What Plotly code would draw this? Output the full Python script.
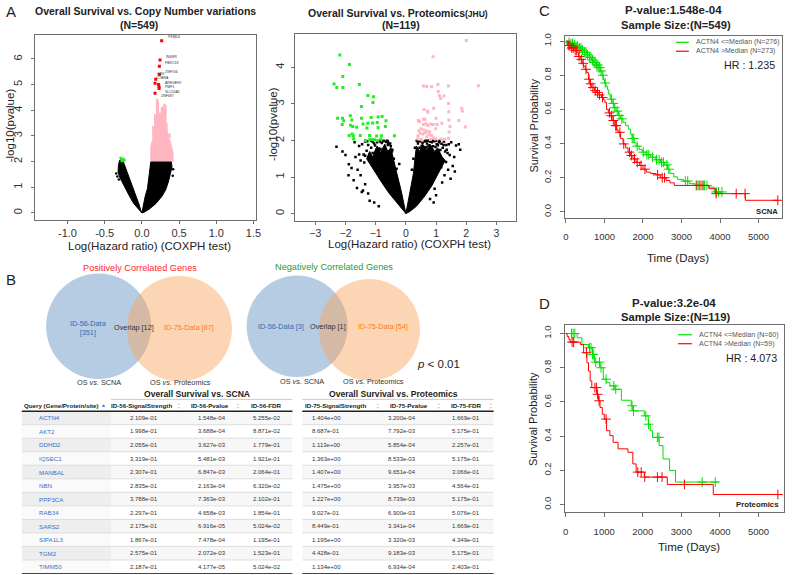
import plotly.graph_objects as go

W, H = 792, 575
FONT = "Liberation Sans, Arial, sans-serif"
GREEN = "#00e000"
RED = "#ff0000"
PINK = "#ffb6c1"
BOXC = "#6e6e6e"
TXT = "#222222"

# ---------------- Panel A : OS vs CNV volcano ----------------
cnv_left_x = [0, -0.06, -0.11, -0.16, -0.21, -0.26, -0.30, -0.32, -0.315, -0.30, -0.275, -0.25,
              -0.225, -0.19, -0.15, -0.11, -0.075, -0.04, -0.015, 0]
cnv_left_y = [0, 0.2, 0.37, 0.62, 0.89, 1.15, 1.4, 1.6, 1.85, 2.05, 2.1, 2.0,
              1.8, 1.54, 1.25, 0.95, 0.65, 0.35, 0.1, 0]
cnv_right_x = [0, 0.02, 0.045, 0.075, 0.09, 0.105, 0.12, 0.25, 0.395, 0.405, 0.385, 0.36,
               0.32, 0.27, 0.19, 0.1, 0.03, 0]
cnv_right_y = [0, 0.3, 0.65, 0.95, 1.25, 1.6, 2.0, 2.0, 2.0, 1.8, 1.55, 1.25,
               0.9, 0.65, 0.37, 0.15, 0.03, 0]
cnv_pink_x = [0.12, 0.12, 0.14, 0.16, 0.18, 0.2, 0.22, 0.24, 0.26, 0.28, 0.3, 0.32, 0.34, 0.36,
              0.38, 0.4, 0.42, 0.42]
cnv_pink_y = [2.0, 2.6, 2.8, 2.95, 3.2, 3.1, 3.3, 3.15, 3.3, 3.2, 3.35, 3.1, 3.2, 2.9,
              2.8, 2.6, 2.3, 2.0]
cnv_stem_x = [0.155, 0.18, 0.205, 0.215, 0.24, 0.27, 0.28, 0.305, 0.315, 0.33, 0.37, 0.395]
cnv_stem_top = [3.4, 3.85, 4.45, 4.35, 3.9, 4.1, 4.15, 4.25, 4.2, 3.5, 3.1, 2.9]
cnv_black_x = [-0.345, -0.33, -0.31, 0.42, 0.415]
cnv_black_y = [1.54, 1.42, 1.3, 1.7, 1.45]
cnv_green_x = [-0.285, -0.275, -0.265, -0.255, -0.245, -0.235, -0.27, -0.25]
cnv_green_y = [2.14, 2.1, 2.08, 2.05, 2.03, 2.06, 2.02, 2.1]
cnv_red_x = [0.266, 0.244, 0.235, 0.235, 0.186, 0.177, 0.225, 0.23, 0.232, 0.177]
cnv_red_y = [6.71, 5.96, 5.72, 5.39, 5.21, 5.05, 5.0, 4.92, 4.85, 4.66]
cnv_red_genes = ["PSMD4", "INSRR", "FBXO18", "ZNF706", "OR6", "COBRA", "ARHGEF2", "PMF1",
                 "SLC50A1", "ZNF687"]
# label placement (style): offsets in px from each point
cnv_lab_dx = [5, 5, 5, 5, 0, 0, 5, 5, 5, 5]
cnv_lab_dy = [-2, -1, -1, -1, -3.6, -3.2, 0, 2.5, 5.1, 4.7]

# ---------------- Panel A2 : OS vs Proteomics volcano ----------------
prot_left_x = [0, -0.15, -0.35, -0.55, -0.8, -1.0, -1.2, -1.3, -1.2, -1.1, -0.95, -0.85, -0.7,
               -0.6, -0.5, -0.42, -0.3, -0.15, -0.05, 0]
prot_left_y = [0, 0.15, 0.35, 0.55, 0.85, 1.1, 1.35, 1.5, 1.7, 1.55, 1.85, 1.65, 1.9,
               1.7, 1.8, 1.55, 1.1, 0.6, 0.2, 0]
prot_right_x = [0, 0.05, 0.15, 0.25, 0.3, 0.35, 0.45, 0.55, 0.7, 0.8, 0.95, 1.05, 1.2, 1.3,
                1.2, 1.05, 0.85, 0.6, 0.35, 0.12, 0]
prot_right_y = [0, 0.2, 0.6, 1.1, 1.5, 1.85, 1.7, 1.9, 1.75, 1.9, 1.7, 1.8, 1.55, 1.45,
                1.3, 1.05, 0.75, 0.45, 0.2, 0.05, 0]
prot_black_x = [-2.30, -2.10, -1.89, -1.73, -1.46, -1.67, -1.55, -1.60, -1.50, -1.35, -1.25,
                -1.20, -1.05, -0.90, -1.45, -1.55, -1.70, -1.35, -0.55, -0.45, -0.40, -0.31,
                -0.22, -0.60, -1.10, -0.85, -1.90, -2.00, -1.62, -1.80, -1.42,
                -1.30, -1.25, -1.15, -1.05, -1.00, -0.95, -0.90, -0.80, -0.75, -0.70, -0.65,
                -0.60, -0.52, -1.40, -1.35, -1.20, -1.10, -0.98, -0.88, -0.78, -0.68, -0.58,
                -0.50, -0.46, -1.28, -1.15, -1.02, -0.92, -0.84, -0.72, -0.62, -1.50, -1.38,
                1.66, 1.50, 1.33, 1.28, 1.17, 0.95, 1.75, 1.45, 1.35, 1.20, 1.00, 0.80, 1.40,
                1.55, 0.25, 0.30, 0.20, 0.40, 0.80, 1.10, 1.60, 1.80, 1.48, 1.62, 0.92,
                0.40, 0.48, 0.55, 0.62, 0.70, 0.78, 0.86, 0.94, 1.02, 1.10, 1.18, 1.26, 1.34,
                0.45, 0.52, 0.60, 0.68, 0.75, 0.83, 0.90, 0.98, 1.06, 1.14, 1.22, 1.30, 1.38,
                0.36, 0.65, 0.88, 1.12, 1.25, 1.42, 0.72, 1.00]
prot_black_y = [1.83, 1.70, 1.35, 0.91, 0.59, 1.55, 1.62, 1.20, 1.05, 0.80, 0.55,
                0.35, 0.30, 0.20, 1.90, 1.85, 1.95, 1.97, 1.90, 1.75, 1.50, 1.23,
                1.36, 1.98, 1.96, 1.97, 1.05, 1.60, 0.70, 1.25, 0.63,
                1.72, 1.88, 1.80, 1.92, 1.70, 1.95, 1.78, 1.93, 1.98, 1.82, 1.96,
                1.88, 1.92, 1.62, 1.58, 1.60, 1.66, 1.75, 1.72, 1.69, 1.76, 1.94,
                1.84, 1.70, 1.98, 1.99, 1.86, 1.99, 1.77, 1.99, 1.99, 1.45, 1.40,
                1.86, 1.95, 1.41, 1.05, 1.27, 0.68, 1.90, 1.60, 1.75, 0.85, 0.50, 0.40, 1.20,
                1.30, 1.50, 1.80, 1.20, 1.97, 1.97, 1.95, 1.55, 1.75, 0.95, 1.15, 0.30,
                1.92, 1.98, 1.93, 1.97, 1.92, 1.99, 1.95, 1.98, 1.90, 1.96, 1.91, 1.97, 1.88,
                1.80, 1.85, 1.80, 1.82, 1.86, 1.79, 1.84, 1.82, 1.87, 1.74, 1.80, 1.70, 1.66,
                1.99, 1.99, 1.99, 1.99, 1.88, 1.90, 1.99, 1.99]
prot_green_x = [-2.19, -1.87, -2.09, -2.38, -2.29, -2.09, -1.54, -1.26, -1.07, -1.09, -1.47,
                -1.84, -2.26, -2.10, -2.06, -1.79, -1.47, -1.15, -0.92, -0.79, -0.66, -1.26,
                -1.10, -0.95, -1.42, -2.11, -1.83, -1.76, -1.63, -1.29, -0.92, -0.68, -1.88,
                -1.78, -1.74, -1.51, -1.20, -0.97, -0.81, -0.38, -1.73, -1.33, -1.20, -1.11,
                -1.04, -0.93, -0.83]
prot_green_y = [4.34, 4.08, 3.75, 3.55, 3.45, 3.45, 3.53, 3.23, 3.20, 3.04, 2.93,
                2.68, 2.61, 2.61, 2.54, 2.56, 2.61, 2.63, 2.64, 2.66, 2.54, 2.47,
                2.48, 2.49, 2.45, 2.44, 2.42, 2.38, 2.36, 2.34, 2.35, 2.38, 2.14,
                2.18, 2.12, 2.14, 2.14, 2.12, 2.13, 2.13, 2.04, 2.00, 2.02, 2.03,
                2.02, 2.00, 2.04]
prot_pink_x = [2.00, 0.90, 2.40, 0.58, 0.69, 0.85, 1.06, 1.41, 1.07, 1.11, 1.26, 1.15, 1.41,
               1.85, 1.87, 0.60, 0.71, 0.73, 0.92, 1.42, 1.00, 0.58, 0.63, 0.41, 0.45, 1.19,
               1.42, 1.75, 0.82, 0.90, 1.03, 0.58, 0.67, 0.72, 1.97, 1.46, 0.99, 0.43, 0.50,
               0.59, 0.69, 0.79, 1.43, 0.47, 0.56, 0.64, 0.76, 0.85, 0.40, 0.69, 0.92, 1.17,
               1.41, 1.28, 0.40, 0.51, 0.81, 0.98]
prot_pink_y = [4.74, 4.29, 3.50, 3.49, 3.48, 3.47, 3.53, 3.49, 3.34, 3.23, 3.22, 3.15, 3.01,
               2.88, 2.81, 2.85, 2.81, 2.77, 2.88, 2.79, 2.61, 2.58, 2.58, 2.55, 2.52, 2.47,
               2.56, 2.55, 2.45, 2.44, 2.44, 2.44, 2.46, 2.41, 2.37, 2.38, 2.32, 2.27, 2.32,
               2.29, 2.26, 2.24, 2.23, 2.20, 2.18, 2.21, 2.17, 2.14, 2.12, 2.10, 2.07, 2.04,
               2.06, 2.03, 2.04, 2.03, 2.03, 2.04]

# ---------------- Panel C : KM SCNA ----------------
km_c_lo_t = [0, 60, 120, 180, 250, 320, 400, 470, 540, 600, 660, 720, 780, 840, 900, 940, 970,
             1000, 1040, 1080, 1110, 1150, 1200, 1250, 1300, 1360, 1420, 1480, 1550, 1620, 1680,
             1720, 1770, 1820, 1900, 1980, 2080, 2200, 2330, 2450, 2560, 2640, 2700, 2800, 2900,
             3050, 3200, 3350, 3700, 3850, 4060]
km_c_lo_s = [1.0, 0.993, 0.985, 0.978, 0.97, 0.96, 0.948, 0.935, 0.92, 0.905, 0.89, 0.875,
             0.86, 0.845, 0.825, 0.80, 0.775, 0.755, 0.735, 0.715, 0.69, 0.66, 0.635, 0.61,
             0.59, 0.565, 0.545, 0.525, 0.505, 0.485, 0.455, 0.43, 0.405, 0.385, 0.365, 0.35,
             0.335, 0.32, 0.305, 0.29, 0.275, 0.25, 0.225, 0.205, 0.19, 0.18, 0.165, 0.155,
             0.145, 0.117, 0.117]
km_c_hi_t = [0, 50, 110, 200, 283, 330, 369, 420, 455, 500, 540, 583, 620, 669, 740, 798, 860,
             926, 980, 1012, 1055, 1100, 1140, 1200, 1269, 1320, 1355, 1420, 1484, 1550, 1612,
             1680, 1741, 1820, 1912, 2000, 2084, 2200, 2341, 2450, 2599, 2700, 2813, 3600, 3713,
             3885, 4657, 5514]
km_c_hi_s = [1.0, 0.975, 0.96, 0.945, 0.932, 0.91, 0.893, 0.87, 0.854, 0.835, 0.816, 0.777,
             0.75, 0.728, 0.71, 0.699, 0.685, 0.67, 0.655, 0.64, 0.60, 0.58, 0.563, 0.535,
             0.505, 0.48, 0.466, 0.43, 0.398, 0.375, 0.35, 0.33, 0.31, 0.29, 0.272, 0.25,
             0.233, 0.225, 0.217, 0.2, 0.184, 0.17, 0.155, 0.155, 0.136, 0.107, 0.068, 0.068]
km_c_lo_cens = [80, 130, 170, 220, 260, 300, 350, 390, 430, 480, 520, 560, 610, 650, 690, 730,
                760, 800, 830, 860, 880, 910, 960, 1020, 1180, 1230, 1270, 1330, 1380, 1450,
                1720, 1760, 1850, 2010, 2100, 2150, 2250, 2350, 2420, 2480, 2530, 2620, 2670,
                3100, 3160, 3380, 3450, 3530, 3600, 3660, 3900, 3960, 4050]
km_c_hi_cens = [60, 100, 150, 190, 240, 280, 340, 400, 450, 520, 600, 640, 700, 760, 820, 870,
                950, 1130, 1180, 1230, 1290, 1310, 1400, 1500, 1650, 1700, 1780, 1850, 1950,
                2050, 2380, 2500, 2560, 3400, 3480, 3560, 3900, 4420, 4650, 5500]

# ---------------- Panel D : KM Proteomics ----------------
km_d_lo_t = [0, 300, 425, 595, 697, 748, 893, 978, 1063, 1148, 1275, 1446, 1700, 1743, 2041,
             2143, 2194, 2253, 2423, 2525, 2695, 2849, 3954]
km_d_lo_s = [1.0, 0.975, 0.936, 0.917, 0.878, 0.833, 0.80, 0.733, 0.713, 0.694, 0.674, 0.61,
             0.578, 0.548, 0.519, 0.47, 0.432, 0.393, 0.345, 0.267, 0.20, 0.132, 0.132]
km_d_hi_t = [0, 40, 85, 120, 383, 468, 553, 595, 638, 680, 808, 850, 893, 952, 1003, 1063,
             1148, 1233, 1360, 1616, 1743, 1828, 2041, 2636, 3826, 5501]
km_d_hi_s = [1.0, 0.983, 0.966, 0.95, 0.936, 0.888, 0.829, 0.781, 0.723, 0.684, 0.645, 0.607,
             0.568, 0.529, 0.50, 0.432, 0.403, 0.364, 0.326, 0.306, 0.238, 0.19, 0.161, 0.118,
             0.059, 0.059]
km_d_lo_cens = [153, 196, 240, 620, 660, 700, 720, 780, 880, 920, 1050, 1250, 1300, 1720, 1760,
                2080, 2150, 2380, 2420, 3540, 3880]
km_d_hi_cens = [170, 210, 540, 760, 800, 830, 870, 1050, 1870, 1960, 2050, 2380, 2500, 3080, 5500]

# ---------------- Venn counts ----------------
venn_pos = ["ID-56-Data<br>[351]", "Overlap [12]", "ID-75-Data [87]"]
venn_neg = ["ID-56-Data [3]", "Overlap [1]", "ID-75-Data [54]"]

# ---------------- Table ----------------
genes = ["ACTN4", "AKT2", "DDHD2", "IQSEC1", "MANBAL", "NBN", "PPP3CA", "RAB34", "SARS2",
         "SIPA1L3", "TGM2", "TIMM50"]
s56 = ["2.109e-01", "1.998e-01", "2.055e-01", "3.319e-01", "2.307e-01", "2.835e-01", "3.788e-01",
       "2.297e-01", "2.175e-01", "1.867e-01", "2.575e-01", "2.187e-01"]
p56 = ["1.548e-04", "3.688e-04", "3.627e-03", "5.481e-03", "6.847e-03", "2.163e-04", "7.363e-03",
       "4.658e-03", "6.916e-05", "7.478e-04", "2.072e-03", "4.177e-05"]
f56 = ["5.255e-02", "8.871e-02", "1.779e-01", "1.921e-01", "2.064e-01", "6.320e-02", "2.102e-01",
       "1.854e-01", "5.024e-02", "1.195e-01", "1.523e-01", "5.024e-02"]
s75 = ["1.404e+00", "8.687e-01", "1.113e+00", "1.363e+00", "1.407e+00", "1.475e+00", "1.227e+00",
       "9.027e-01", "8.449e-01", "1.195e+00", "4.428e-01", "1.134e+00"]
p75 = ["3.200e-04", "7.792e-03", "5.854e-04", "8.533e-03", "9.651e-04", "3.957e-03", "8.739e-03",
       "6.900e-03", "3.341e-04", "3.320e-03", "9.183e-03", "6.934e-04"]
f75 = ["1.669e-01", "5.175e-01", "2.257e-01", "5.175e-01", "3.066e-01", "4.564e-01", "5.175e-01",
       "5.076e-01", "1.669e-01", "4.349e-01", "5.175e-01", "2.403e-01"]
table_headers = ["ID-56-SignalStrength", "ID-56-Pvalue", "ID-56-FDR",
                 "ID-75-SignalStrength", "ID-75-Pvalue", "ID-75-FDR"]


# ---------------- helpers ----------------
def X(p):
    return p / W


def Y(p):
    return 1 - p / H


def ann(text, x, y, size, color=TXT, xanchor="center", yanchor="middle", angle=0):
    return dict(text=text, x=X(x), y=Y(y), xref="paper", yref="paper", showarrow=False,
                font=dict(size=size, color=color, family=FONT), xanchor=xanchor,
                yanchor=yanchor, textangle=angle)


def step_at(ts, ss, t):
    v = ss[0]
    for ti, si in zip(ts, ss):
        if ti <= t:
            v = si
        else:
            break
    return v


fig = go.Figure()


def poly(xs, ys, color, ax):
    fig.add_trace(go.Scatter(x=xs, y=ys, mode="lines", fill="toself", fillcolor=color,
                             line=dict(color=color, width=1), xaxis="x" + ax, yaxis="y" + ax,
                             hoverinfo="skip"))


def pts(xs, ys, color, ax, size=3, symbol="square"):
    fig.add_trace(go.Scatter(x=xs, y=ys, mode="markers",
                             marker=dict(color=color, size=size, symbol=symbol, line=dict(width=0)),
                             xaxis="x" + ax, yaxis="y" + ax, hoverinfo="skip"))


# Panel A traces
poly(cnv_left_x, cnv_left_y, "black", "")
poly(cnv_right_x, cnv_right_y, "black", "")
poly(cnv_pink_x, cnv_pink_y, PINK, "")
stem_x, stem_y = [], []
for sx, st in zip(cnv_stem_x, cnv_stem_top):
    stem_x += [sx, sx, None]
    stem_y += [2.9, st, None]
fig.add_trace(go.Scatter(x=stem_x, y=stem_y, mode="lines", line=dict(color=PINK, width=2.5),
                         xaxis="x", yaxis="y", hoverinfo="skip"))
pts(cnv_black_x, cnv_black_y, "black", "", 2.5, "circle")
pts(cnv_green_x, cnv_green_y, "#22ee22", "", 2.5)
pts(cnv_red_x, cnv_red_y, RED, "", 3)

anns = []
shapes = []
for gx, gy, g, dx, dy in zip(cnv_red_x, cnv_red_y, cnv_red_genes, cnv_lab_dx, cnv_lab_dy):
    anns.append(dict(text=g, x=gx, y=gy, xref="x", yref="y", showarrow=False,
                     xanchor="left", yanchor="middle", xshift=dx, yshift=-dy + 2,
                     font=dict(size=3.5, color="#333", family=FONT), borderpad=0))

# Panel A2 traces
poly(prot_left_x, prot_left_y, "black", "2")
poly(prot_right_x, prot_right_y, "black", "2")
pts(prot_black_x, prot_black_y, "black", "2", 2.5)
pts(prot_green_x, prot_green_y, "#22ee22", "2", 3)
pts(prot_pink_x, prot_pink_y, PINK, "2", 3)


# KM traces
def km(ts, ss, cens, color, ax):
    fig.add_trace(go.Scatter(x=ts, y=ss, mode="lines", line=dict(color=color, width=1, shape="hv"),
                             xaxis="x" + ax, yaxis="y" + ax, hoverinfo="skip"))
    fig.add_trace(go.Scatter(x=cens, y=[step_at(ts, ss, c) for c in cens], mode="markers",
                             marker=dict(symbol="cross-thin", size=7, line=dict(width=1, color=color)),
                             xaxis="x" + ax, yaxis="y" + ax, hoverinfo="skip"))


km(km_c_lo_t, km_c_lo_s, km_c_lo_cens, GREEN, "3")
km(km_c_hi_t, km_c_hi_s, km_c_hi_cens, RED, "3")
km(km_d_lo_t, km_d_lo_s, km_d_lo_cens, GREEN, "4")
km(km_d_hi_t, km_d_hi_s, km_d_hi_cens, RED, "4")


def axis(domain, rng, anchor, tickvals, ticktext=None, angle=0, size=10.5, standoff=3, ticklen=3):
    d = dict(domain=domain, range=rng, anchor=anchor, showline=True, linecolor=BOXC, linewidth=1,
             mirror=True, ticks="outside", ticklen=ticklen, tickcolor=BOXC, tickwidth=1,
             showgrid=False, zeroline=False, tickvals=tickvals, tickangle=angle,
             tickfont=dict(family=FONT, size=size, color="#333"), ticklabelstandoff=standoff)
    if ticktext is not None:
        d["ticktext"] = ticktext
    return d


layout_axes = dict(
    xaxis=axis([X(33), X(256)], [-1.44, 1.53], "y", [-1, -0.5, 0, 0.5, 1, 1.5],
               ["-1.0", "-0.5", "0.0", "0.5", "1.0", "1.5"], 0, 11, 0),
    yaxis=axis([Y(218), Y(32)], [-0.27, 6.94], "x", [0, 1, 2, 3, 4, 5, 6], None, -90, 11, 4),
    xaxis2=axis([X(296), X(519)], [-3.66, 3.66], "y2", [-3, -2, -1, 0, 1, 2, 3], None, 0, 10.5, 0),
    yaxis2=axis([Y(219), Y(31)], [-0.2, 4.92], "x2", [0, 1, 2, 3, 4], None, -90, 11, 3),
    xaxis3=axis([X(568), X(787)], [-25, 5610], "y3", [0, 1000, 2000, 3000, 4000, 5000], None, 0,
                9.5, 6, 4),
    yaxis3=axis([Y(216), Y(33)], [-0.035, 1.031], "x3", [0, 0.2, 0.4, 0.6, 0.8, 1.0],
                ["0.0", "0.2", "0.4", "0.6", "0.8", "1.0"], -90, 9.5, 5, 4),
    xaxis4=axis([X(568), X(789)], [-15, 5660], "y4", [0, 1000, 2000, 3000, 4000, 5000], None, 0,
                9.5, 6, 4),
    yaxis4=axis([Y(512), Y(324)], [-0.045, 1.048], "x4", [0, 0.2, 0.4, 0.6, 0.8, 1.0],
                ["0.0", "0.2", "0.4", "0.6", "0.8", "1.0"], -90, 9.5, 5, 4),
)

# Panel letters
anns += [ann("A", 2, 9, 15, "#222", "left"), ann("B", 2, 278, 15, "#222", "left"),
         ann("C", 540, 8, 15, "#222", "left"), ann("D", 540, 302, 15, "#222", "left")]

# Panel A titles / labels
anns += [ann("<b>Overall Survival vs. Copy Number variations</b>", 145, 8, 10.5),
         ann("<b>(N=549)</b>", 138, 22.5, 10.5),
         ann("-log10(pvalue)", 8, 123, 11.5, angle=-90),
         ann("Log(Hazard ratio) (COXPH test)", 149, 244, 11.5)]
anns += [ann("<b>Overall Survival vs. Proteomics</b><b><span style='font-size:8.5px'>(JHU)</span></b>",
             400, 10, 10.5),
         ann("<b>(N=119)</b>", 403, 22.5, 10.5),
         ann("-log10(pvalue)", 274, 122, 11.5, angle=-90),
         ann("Log(Hazard ratio) (COXPH test)", 411, 242.5, 11.5)]

# KM C
anns += [ann("<b>P-value:1.548e-04</b>", 677, 7.5, 11.5),
         ann("<b>Sample Size:(N=549)</b>", 680, 22, 11.2),
         ann("Survival Probability", 537, 123, 11, angle=-90),
         ann("Time (Days)", 682, 256, 11.5),
         ann("ACTN4 <=Median (N=276)", 698, 39.3, 7, "#555", "left"),
         ann("ACTN4 >Median (N=273)", 698, 48.3, 7, "#555", "left"),
         ann("HR : 1.235", 782, 62, 10.7, "#222", "right"),
         ann("<b>SCNA</b>", 785, 210, 7.7, "#222", "right")]
shapes += [dict(type="line", xref="paper", yref="paper", x0=X(680), x1=X(693), y0=Y(39.5), y1=Y(39.5),
                line=dict(color=GREEN, width=1.2)),
           dict(type="line", xref="paper", yref="paper", x0=X(680), x1=X(693), y0=Y(48.5), y1=Y(48.5),
                line=dict(color=RED, width=1.2))]

# KM D
anns += [ann("<b>P-value:3.2e-04</b>", 678, 302, 11.5),
         ann("<b>Sample Size:(N=119)</b>", 680, 315.5, 11.2),
         ann("Survival Probability", 536, 418, 11, angle=-90),
         ann("Time (Days)", 693, 547, 11.5),
         ann("ACTN4 <=Median (N=60)", 701, 333.3, 7, "#555", "left"),
         ann("ACTN4 >Median (N=59)", 701, 342.3, 7, "#555", "left"),
         ann("HR : 4.073", 784, 356.5, 10.7, "#222", "right"),
         ann("<b>Proteomics</b>", 786, 504, 7.8, "#222", "right")]
shapes += [dict(type="line", xref="paper", yref="paper", x0=X(682), x1=X(696), y0=Y(333.5), y1=Y(333.5),
                line=dict(color=GREEN, width=1.2)),
           dict(type="line", xref="paper", yref="paper", x0=X(682), x1=X(696), y0=Y(342.5), y1=Y(342.5),
                line=dict(color=RED, width=1.2))]


# Venn diagrams
def circle(cx, cy, r, fill):
    return dict(type="circle", xref="paper", yref="paper", x0=X(cx - r), x1=X(cx + r),
                y0=Y(cy + r), y1=Y(cy - r), fillcolor=fill, line=dict(width=0))


BLUE_F = "rgba(93,142,191,0.45)"
ORNG_F = "rgba(248,162,91,0.45)"
shapes += [circle(97.5, 325, 53, BLUE_F), circle(179, 327.5, 53, ORNG_F),
           circle(297.8, 325, 51, BLUE_F), circle(370.7, 328.5, 51, ORNG_F)]
VB = "#2f6db5"
VO = "#ff7a22"
anns += [ann("Positively Correlated Genes", 139.5, 266.5, 9.2, "#ff2a2a"),
         ann("Negatively Correlated Genes", 335, 265.7, 9.2, "#2e9a2e"),
         ann(venn_pos[0], 87, 326.5, 7.3, VB),
         ann(venn_pos[1], 133.3, 326.7, 7.3, "#333"),
         ann(venn_pos[2], 188.5, 326.2, 7.3, VO),
         ann(venn_neg[0], 281.7, 325, 7.3, VB),
         ann(venn_neg[1], 329.3, 325, 7.3, "#333"),
         ann(venn_neg[2], 384.3, 325, 7.3, VO),
         ann("OS <i>vs.</i> SCNA", 98.3, 381.7, 7.3, "#333"),
         ann("OS <i>vs.</i> Proteomics", 180, 381.7, 7.3, "#333"),
         ann("OS <i>vs.</i> SCNA", 302.7, 380, 7.3, "#333"),
         ann("OS <i>vs.</i> Proteomics", 375, 380, 7.3, "#333"),
         ann("<i>p</i> < 0.01", 440.7, 363.3, 11.5, "#222")]


# Table
def rect(x0, x1, y0, y1, fill):
    return dict(type="rect", xref="paper", yref="paper", x0=X(x0), x1=X(x1), y0=Y(y1), y1=Y(y0),
                fillcolor=fill, line=dict(width=0), layer="below")


def hline(x0, x1, y, color, width=1):
    return dict(type="line", xref="paper", yref="paper", x0=X(x0), x1=X(x1), y0=Y(y), y1=Y(y),
                line=dict(color=color, width=width))


ROW0 = 410.3
RH = 13.6
for i in range(len(genes)):
    top = ROW0 + RH * i
    bot = top + RH
    if i % 2 == 0:
        shapes.append(rect(110, 293, top, bot, "#f7f7f7"))
        shapes.append(rect(20, 110, top, bot, "#eeeeee"))
        shapes.append(rect(303, 496, top, bot, "#f7f7f7"))
    else:
        shapes.append(rect(20, 110, top, bot, "#fafafa"))
    if i > 0:
        shapes.append(hline(20, 293, top, "#dddddd", 1))
        shapes.append(hline(303, 496, top, "#dddddd", 1))
    yc = top + RH / 2
    anns.append(ann(genes[i], 35, yc, 6.2, "#3a6fc4", "left"))
    for xc, col in zip([143, 212, 267, 327, 404, 468], [s56, p56, f56, s75, p75, f75]):
        anns.append(ann(col[i], xc, yc, 6, "#333"))

shapes += [hline(20, 293, ROW0, "#222", 1.5), hline(303, 496, ROW0, "#222", 1.5),
           hline(20, 293, ROW0 + RH * 12, "#444", 1.2), hline(303, 496, ROW0 + RH * 12, "#444", 1.2),
           hline(110, 293, 398.5, "#cccccc", 1), hline(303, 496, 398.5, "#cccccc", 1)]
anns += [ann("<b>Overall Survival vs. SCNA</b>", 197, 393, 8.6, "#222"),
         ann("<b>Overall Survival vs. Proteomics</b>", 395, 393, 8.6, "#222"),
         ann("<b>Query (Gene/Protein/site)</b>", 60, 405, 6.2, "#222"),
         ann("▲", 102.5, 404, 5, "#4a6fd0")]
for xc, h in zip([141, 210, 266, 336, 411, 468], table_headers):
    anns.append(ann("<b>" + h + "</b>", xc, 405, 6.2, "#222"))
for xa in [178, 238, 379, 440, 493]:
    anns.append(ann("▲", xa, 402.8, 3.5, "#cccccc"))
    anns.append(ann("▼", xa, 406.8, 3.5, "#cccccc"))

fig.update_layout(
    width=W, height=H, margin=dict(l=0, r=0, t=0, b=0, pad=0),
    paper_bgcolor="white", plot_bgcolor="white", showlegend=False,
    font=dict(family=FONT, color=TXT),
    annotations=anns, shapes=shapes, **layout_axes)

fig.write_html("out.html", config={"displayModeBar": False},
               post_script="document.body.style.margin='0';document.body.style.padding='0';")
